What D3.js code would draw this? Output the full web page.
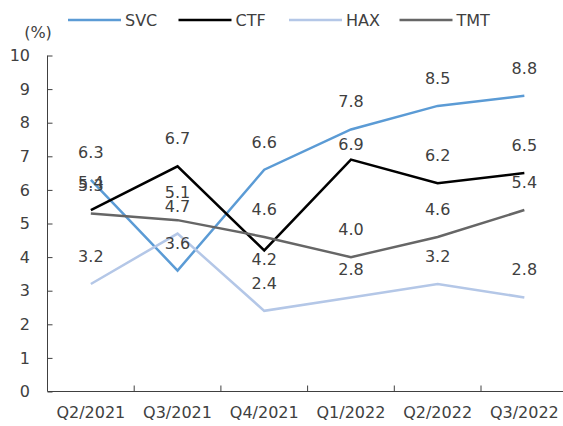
<!DOCTYPE html>
<meta charset="utf-8">
<head>
    <title></title>
    <script src="https://cdn.jsdelivr.net/npm/d3@7"></script>
</head>
<style>
    body{ margin:0; background:#fff; }
    text{ font-family: "DejaVu Sans", Verdana, sans-serif; fill:#404040; }
</style>
<svg width="563" height="426"></svg>
<script>
    var quarters = ['Q2/2021','Q3/2021','Q4/2021','Q1/2022','Q2/2022','Q3/2022'],
        svc = [6.3, 3.6, 6.6, 7.8, 8.5, 8.8],
        ctf = [5.4, 6.7, 4.2, 6.9, 6.2, 6.5],
        hax = [3.2, 4.7, 2.4, 2.8, 3.2, 2.8],
        tmt = [5.3, 5.1, 4.6, 4.0, 4.6, 5.4],
        yTicks = [0,1,2,3,4,5,6,7,8,9,10];

    var series = [
        {name:'SVC', values:svc, color:'#5b9bd5'},
        {name:'CTF', values:ctf, color:'#000000'},
        {name:'HAX', values:hax, color:'#b4c7e7'},
        {name:'TMT', values:tmt, color:'#666666'}
    ];

    // a couple of labels sit off the usual spot
    var nudge = {'CTF-2': 37, 'CTF-3': 12};

    var plotLeft = 47.5, plotTop = 55.5, plotBottom = 391.5,
        band = 86.7;

    var svg = d3.select('svg');

    var x = d3.scaleBand().domain(quarters).range([plotLeft, plotLeft + band*quarters.length]),
        y = d3.scaleLinear().domain([0,10]).range([plotBottom, plotTop]);

    // y axis with inner ticks
    var ya = svg.append('g').attr('transform','translate('+plotLeft+',0)')
        .call(d3.axisRight(y).tickValues(yTicks).tickSize(5).tickFormat(''));
    ya.select('.domain').attr('d','M0,'+plotTop+'V'+plotBottom);
    ya.selectAll('line,path').attr('stroke','#404040');

    svg.append('g').selectAll('text').data(yTicks).enter().append('text')
        .attr('x', 30).attr('y', function(d){ return y(d); })
        .attr('dy','0.36em').attr('text-anchor','end')
        .style('font-size','16px')
        .text(function(d){ return d; });

    // x axis
    var xa = svg.append('g').attr('transform','translate(0,'+plotBottom+')')
        .call(d3.axisTop(x).tickSize(0).tickFormat(''));
    xa.select('.domain').attr('d','M'+plotLeft+',0H'+(plotLeft + band*quarters.length)).attr('stroke','#404040');
    xa.selectAll('.tick').remove();
    xa.selectAll('line.sep').data(quarters.slice(1)).enter().append('line')
        .attr('class','sep')
        .attr('x1', function(d){ return x(d); }).attr('x2', function(d){ return x(d); })
        .attr('y1', -6).attr('y2', 0).attr('stroke','#404040');

    svg.append('g').selectAll('text').data(quarters).enter().append('text')
        .attr('x', function(d){ return x(d) + x.bandwidth()/2; })
        .attr('y', 418).attr('text-anchor','middle')
        .style('font-size','16px')
        .text(function(d){ return d; });

    // lines
    var line = d3.line()
        .x(function(d,i){ return x(quarters[i]) + x.bandwidth()/2; })
        .y(function(d){ return y(d); });

    series.forEach(function(s){
        svg.append('path').datum(s.values)
            .attr('d', line)
            .attr('fill','none')
            .attr('stroke', s.color)
            .attr('stroke-width', 2.5)
            .attr('stroke-linejoin','miter');
    });

    // data labels
    series.forEach(function(s){
        svg.append('g').selectAll('text').data(s.values).enter().append('text')
            .attr('x', function(d,i){ return x(quarters[i]) + x.bandwidth()/2; })
            .attr('y', function(d,i){ return y(d) - 22 + (nudge[s.name+'-'+i] || 0); })
            .attr('text-anchor','middle')
            .style('font-size','16px')
            .text(function(d){ return d.toFixed(1); });
    });

    // unit label
    svg.append('text').attr('x', 38).attr('y', 38).attr('text-anchor','middle')
        .style('font-size','16px').text('(%)');

    // legend
    var lg = svg.append('g').selectAll('g').data(series).enter().append('g')
        .attr('transform', function(d,i){ return 'translate('+(68 + i*110.5)+',20)'; });
    lg.append('line').attr('x1',0).attr('x2',53).attr('y1',0).attr('y2',0)
        .attr('stroke', function(d){ return d.color; }).attr('stroke-width',2.5);
    lg.append('text').attr('x',57).attr('y',6)
        .style('font-size','16px')
        .text(function(d){ return d.name; });
</script>
